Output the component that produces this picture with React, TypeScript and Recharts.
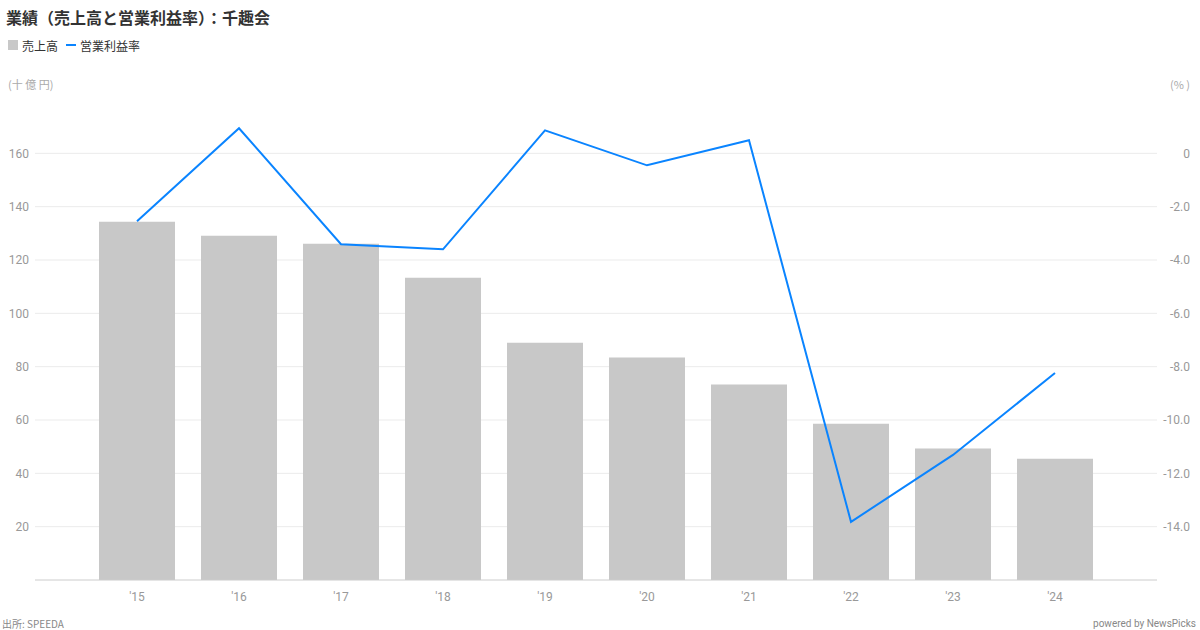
import React from 'react';
import { ComposedChart, Bar, Line, XAxis, YAxis, CartesianGrid } from 'recharts';

const years = ["'15", "'16", "'17", "'18", "'19", "'20", "'21", "'22", "'23", "'24"];
const sales = [134.3, 129.1, 126.1, 113.3, 89.0, 83.4, 73.3, 58.6, 49.3, 45.5];
const margin = [-2.55, 0.94, -3.41, -3.6, 0.86, -0.45, 0.49, -13.82, -11.31, -8.24];
const leftTicks = [20, 40, 60, 80, 100, 120, 140, 160];
const rightTicks = [0, -2, -4, -6, -8, -10, -12, -14];

const data = years.map((y, i) => ({ year: y, sales: sales[i], margin: margin[i] }));

const FONT = '"Noto Sans CJK JP", "Noto Sans", sans-serif';
const TICK_FONT = 'Roboto, "Noto Sans", sans-serif';

const LeftTick = (props: any) => {
  const { y, payload } = props;
  return (
    <text x={29} y={y} dy="0.35em" textAnchor="end" fontSize={12} fill="#999" fontFamily={TICK_FONT}>
      {payload.value}
    </text>
  );
};

const RightTick = (props: any) => {
  const { y, payload } = props;
  const v = payload.value === 0 ? '0' : Number(payload.value).toFixed(1);
  return (
    <text x={1190} y={y} dy="0.35em" textAnchor="end" fontSize={12} fill="#999" fontFamily={TICK_FONT}>
      {v}
    </text>
  );
};

const XTick = (props: any) => {
  const { x, payload } = props;
  return (
    <text x={x} y={597} dy="0.35em" textAnchor="middle" fontSize={12} fill="#999" fontFamily={TICK_FONT}>
      {payload.value}
    </text>
  );
};

export default function App() {
  return (
    <div style={{ position: 'absolute', left: 0, top: 0, width: 1200, height: 630, background: '#fff', fontFamily: FONT }}>
      <div style={{ position: 'absolute', left: 6, top: 6, fontSize: 16, fontWeight: 700, color: '#333', lineHeight: '22px', whiteSpace: 'nowrap' }}>
        業績（売上高と営業利益率）：千趣会
      </div>
      <div style={{ position: 'absolute', left: 8, top: 36, height: 18, display: 'flex', alignItems: 'center', fontSize: 12, color: '#333' }}>
        <span style={{ display: 'inline-block', width: 10, height: 10, background: '#c8c8c8', marginRight: 4 }} />
        <span style={{ marginRight: 8 }}>売上高</span>
        <span style={{ display: 'inline-block', width: 10, height: 2, background: '#0a84ff', marginRight: 4 }} />
        <span>営業利益率</span>
      </div>
      <div style={{ position: 'absolute', left: 8, top: 76, fontSize: 11, color: '#aaa', lineHeight: '16px', whiteSpace: 'nowrap' }}>(十 億 円)</div>
      <div style={{ position: 'absolute', right: 10, top: 76, fontSize: 11, color: '#aaa', lineHeight: '16px', whiteSpace: 'nowrap' }}>(% )</div>
      <div style={{ position: 'absolute', left: 2, top: 617, fontSize: 10, color: '#888', lineHeight: '14px', fontFamily: '"Noto Sans CJK JP", sans-serif' }}>出所: SPEEDA</div>
      <div style={{ position: 'absolute', right: 4, top: 617, fontSize: 10, color: '#888', lineHeight: '14px', fontFamily: 'Roboto, sans-serif' }}>powered by NewsPicks</div>
      <div style={{ position: 'absolute', left: 0, top: 0 }}>
        <ComposedChart width={1200} height={630} data={data} margin={{ top: 100, right: 0, left: 0, bottom: 20 }}>
          <CartesianGrid vertical={false} stroke="#ebebeb" yAxisId="left" horizontalValues={leftTicks} />
          <XAxis dataKey="year" padding={{ left: 51, right: 51 }} tickLine={false} axisLine={{ stroke: '#ccc' }} height={30} tick={<XTick />} interval={0} />
          <YAxis yAxisId="left" orientation="left" width={35} domain={[0, 180]} ticks={leftTicks} tickLine={false} axisLine={false} tick={<LeftTick />} interval={0} />
          <YAxis yAxisId="right" orientation="right" width={43} domain={[-16, 2]} ticks={rightTicks} tickLine={false} axisLine={false} tick={<RightTick />} interval={0} />
          <Bar yAxisId="left" dataKey="sales" fill="#c8c8c8" barSize={76} isAnimationActive={false} />
          <Line yAxisId="right" dataKey="margin" stroke="#0a84ff" strokeWidth={2} dot={false} isAnimationActive={false} type="linear" />
        </ComposedChart>
      </div>
    </div>
  );
}
